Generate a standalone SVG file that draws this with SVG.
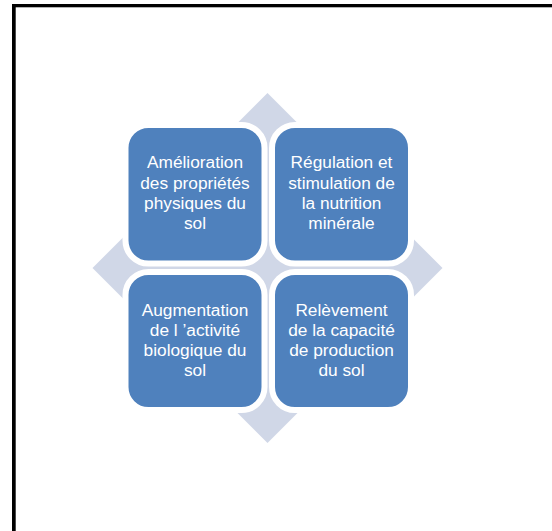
<svg xmlns="http://www.w3.org/2000/svg" width="552" height="531" viewBox="0 0 552 531">
<style>
.box{fill:#4F81BD;stroke:#FFFFFF;stroke-width:6}
.lbl{fill:#FFFFFF;font-family:"Liberation Sans",Arial,sans-serif;font-size:17.3px;text-anchor:middle}
.frame{fill:#000000}
</style>
<rect x="0" y="0" width="552" height="531" fill="#FFFFFF"/>
<g id="frame">
<rect class="frame" x="12" y="4" width="540" height="3.3"/>
<rect class="frame" x="12" y="4" width="3.7" height="527"/>
</g>
<g id="background-diamond">
<polygon points="267.5,93 442.5,268 267.5,443 92.5,268" fill="#D0D7E7"/>
</g>
<g id="node-tl">
<rect class="box" x="125.5" y="125" width="139" height="138.5" rx="23" ry="23"/>
<text class="lbl" x="195" y="168.3">Amélioration</text>
<text class="lbl" x="195" y="188.6">des propriétés</text>
<text class="lbl" x="195" y="208.9">physiques du</text>
<text class="lbl" x="195" y="229.2">sol</text>
</g>
<g id="node-tr">
<rect class="box" x="272" y="125" width="139" height="138.5" rx="23" ry="23"/>
<text class="lbl" x="341.5" y="168.3">Régulation et</text>
<text class="lbl" x="341.5" y="188.6">stimulation de</text>
<text class="lbl" x="341.5" y="208.9">la nutrition</text>
<text class="lbl" x="341.5" y="229.2">minérale</text>
</g>
<g id="node-bl">
<rect class="box" x="125.5" y="272" width="139" height="138" rx="23" ry="23"/>
<text class="lbl" x="195" y="315.5">Augmentation</text>
<text class="lbl" x="195" y="335.8">de l ’activité</text>
<text class="lbl" x="195" y="356.1">biologique du</text>
<text class="lbl" x="195" y="376.4">sol</text>
</g>
<g id="node-br">
<rect class="box" x="272" y="272" width="139" height="138" rx="23" ry="23"/>
<text class="lbl" x="341.5" y="315.5">Relèvement</text>
<text class="lbl" x="341.5" y="335.8">de la capacité</text>
<text class="lbl" x="341.5" y="356.1">de production</text>
<text class="lbl" x="341.5" y="376.4">du sol</text>
</g>
<g id="connectors"></g>
</svg>
